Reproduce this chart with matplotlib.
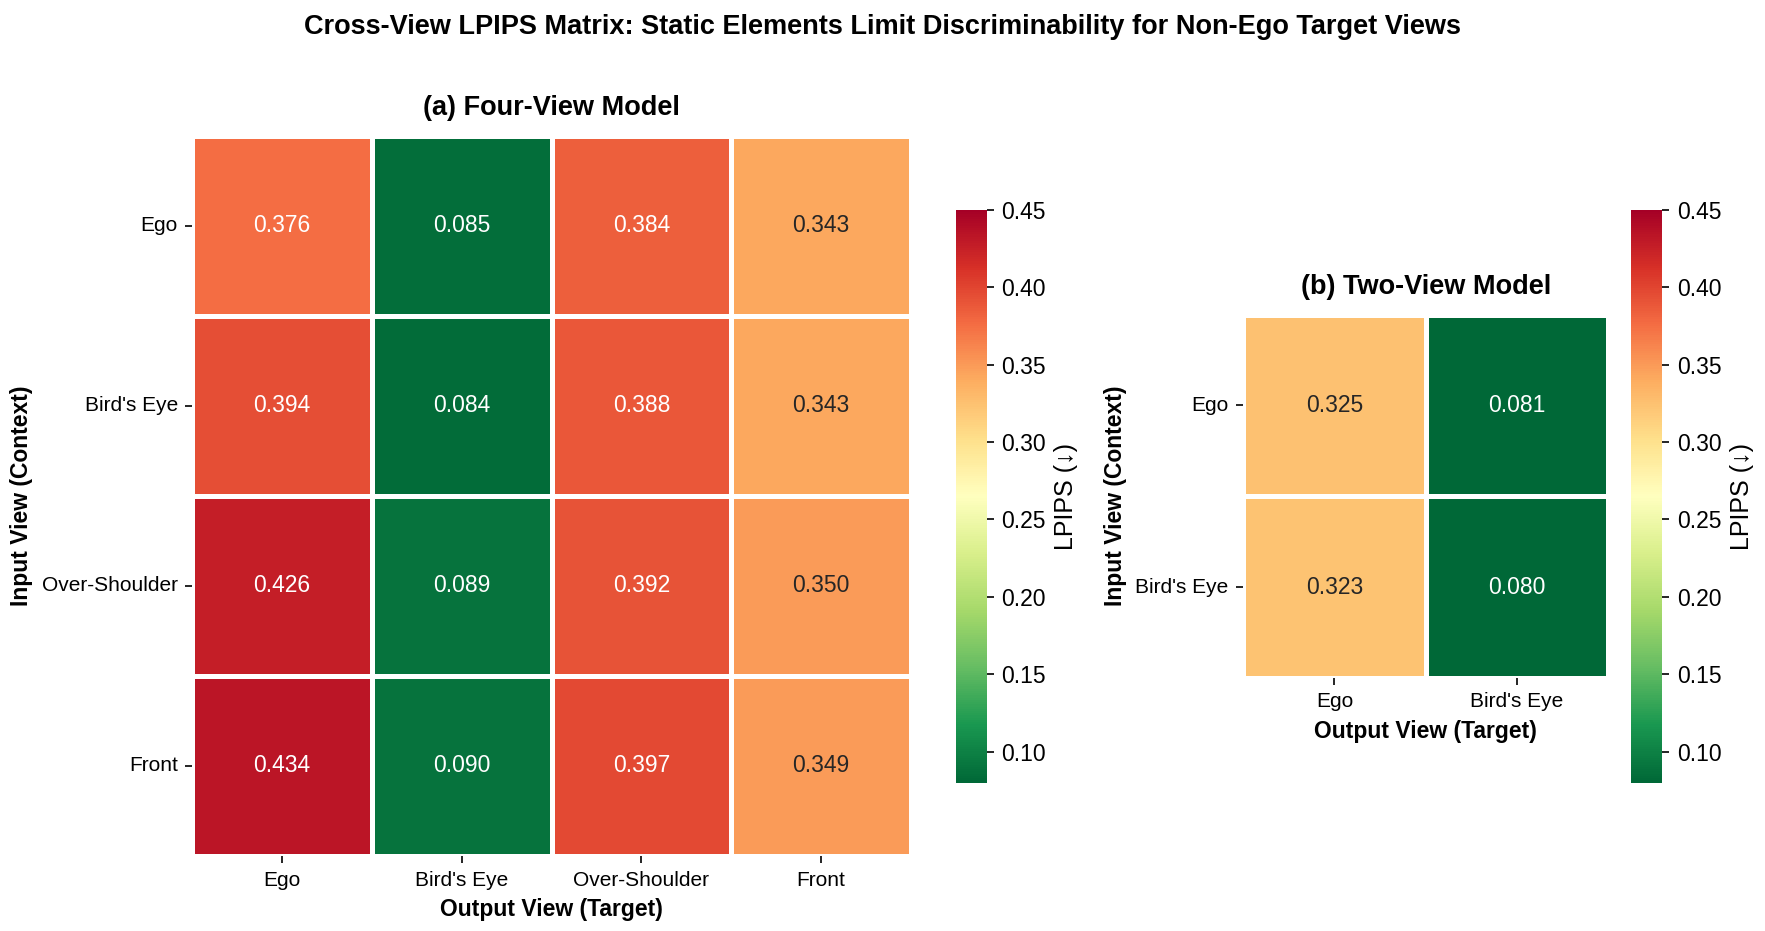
import matplotlib
matplotlib.use('Agg')
import matplotlib.pyplot as plt
import seaborn as sns
import numpy as np

plt.rcParams['font.family'] = ['Liberation Sans', 'DejaVu Sans']

views4 = ['Ego', "Bird's Eye", 'Over-Shoulder', 'Front']
views2 = ['Ego', "Bird's Eye"]

# rows = input view (context), cols = output view (target)
lpips4 = np.array([
    [0.376, 0.085, 0.384, 0.343],
    [0.394, 0.084, 0.388, 0.343],
    [0.426, 0.089, 0.392, 0.350],
    [0.434, 0.090, 0.397, 0.349],
])
lpips2 = np.array([
    [0.325, 0.081],
    [0.323, 0.080],
])

vmin, vmax = 0.08, 0.45
cbar_ticks = [0.10, 0.15, 0.20, 0.25, 0.30, 0.35, 0.40, 0.45]

fig = plt.figure(figsize=(1765 / 150, 931 / 150), dpi=150)

ax1 = fig.add_axes([0.1090, 0.0806, 0.4070, 0.7736])
cax1 = fig.add_axes([0.5414, 0.1594, 0.0176, 0.6152])
ax2 = fig.add_axes([0.7043, 0.2719, 0.2070, 0.3902])
cax2 = fig.add_axes([0.9241, 0.1594, 0.0176, 0.6152])


def draw(ax, cax, data, labels, title):
    sns.heatmap(data, ax=ax, cbar_ax=cax, annot=True, fmt='.3f',
                cmap='RdYlGn_r', vmin=vmin, vmax=vmax,
                linewidths=1.5, linecolor='white',
                xticklabels=labels, yticklabels=labels,
                annot_kws={'fontsize': 11},
                cbar_kws={'ticks': cbar_ticks})
    ax.set_title(title, fontsize=13, fontweight='bold', pad=10)
    ax.set_xlabel('Output View (Target)', fontsize=11, fontweight='bold')
    ax.set_ylabel('Input View (Context)', fontsize=11, fontweight='bold')
    ax.tick_params(axis='both', labelsize=10)
    plt.setp(ax.get_yticklabels(), rotation=0)
    plt.setp(ax.get_xticklabels(), rotation=0)
    cax.tick_params(labelsize=11)
    cax.set_ylabel('LPIPS (↓)', fontsize=12)


draw(ax1, cax1, lpips4, views4, '(a) Four-View Model')
draw(ax2, cax2, lpips2, views2, '(b) Two-View Model')

fig.suptitle('Cross-View LPIPS Matrix: Static Elements Limit Discriminability for Non-Ego Target Views',
             fontsize=13, fontweight='bold', y=0.985)

fig.savefig('out.png', dpi=150)
